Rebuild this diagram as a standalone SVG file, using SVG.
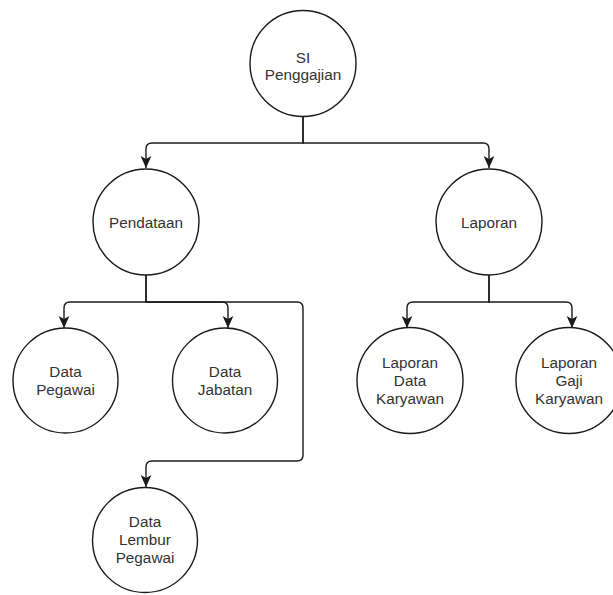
<svg xmlns="http://www.w3.org/2000/svg" width="613" height="595" viewBox="0 0 613 595">
<defs>
<style>
.node circle{fill:#fff;stroke:#1a1a1a;stroke-width:1.4}
.node text{font-family:"Liberation Sans",Arial,sans-serif;font-size:15.3px;fill:#333;text-anchor:middle}
.edge{fill:none;stroke:#1a1a1a;stroke-width:1.4;marker-end:url(#arr)}
</style>
<marker id="arr" markerUnits="userSpaceOnUse" markerWidth="12" markerHeight="12" refX="10" refY="5" orient="auto" viewBox="0 0 10 10">
<path d="M0,0.5 L10,5 L0,9.5 L2.5,5 Z" fill="#1a1a1a"/>
</marker>
</defs>
<rect width="613" height="595" fill="#fff"/>
<g id="connectors">
<path class="edge" d="M303,117 V143 H152 Q146,143 146,149 V168"/>
<path class="edge" d="M303,117 V143 H483 Q489,143 489,149 V168"/>
<path class="edge" d="M146,275 V302 H70 Q64,302 64,308 V328"/>
<path class="edge" d="M146,275 V302 H222 Q228,302 228,308 V328"/>
<path class="edge" d="M146,302 H297 Q303,302 303,308 V455 Q303,461 297,461 H152 Q146,461 146,467 V487"/>
<path class="edge" d="M489,275 V302 H413 Q407,302 407,308 V328"/>
<path class="edge" d="M489,275 V302 H566 Q572,302 572,308 V328"/>
</g>
<g id="si-penggajian" class="node">
<circle cx="303" cy="63.5" r="53"/>
<text x="303" y="62.5">SI</text>
<text x="303" y="80">Penggajian</text>
</g>
<g id="pendataan" class="node">
<circle cx="146" cy="222" r="53"/>
<text x="146" y="227.5">Pendataan</text>
</g>
<g id="laporan" class="node">
<circle cx="489" cy="222" r="53"/>
<text x="489" y="227.5">Laporan</text>
</g>
<g id="data-pegawai" class="node">
<circle cx="65.5" cy="380.5" r="52.5"/>
<text x="65.5" y="377">Data</text>
<text x="65.5" y="395">Pegawai</text>
</g>
<g id="data-jabatan" class="node">
<circle cx="225" cy="380.5" r="52.5"/>
<text x="225" y="377">Data</text>
<text x="225" y="395">Jabatan</text>
</g>
<g id="data-lembur-pegawai" class="node">
<circle cx="145" cy="540" r="52.5"/>
<text x="145" y="527">Data</text>
<text x="145" y="545">Lembur</text>
<text x="145" y="563">Pegawai</text>
</g>
<g id="laporan-data-karyawan" class="node">
<circle cx="410" cy="380.5" r="53"/>
<text x="410" y="368">Laporan</text>
<text x="410" y="386">Data</text>
<text x="410" y="404">Karyawan</text>
</g>
<g id="laporan-gaji-karyawan" class="node">
<circle cx="569" cy="380.5" r="53"/>
<text x="569" y="368">Laporan</text>
<text x="569" y="386">Gaji</text>
<text x="569" y="404">Karyawan</text>
</g>
</svg>
